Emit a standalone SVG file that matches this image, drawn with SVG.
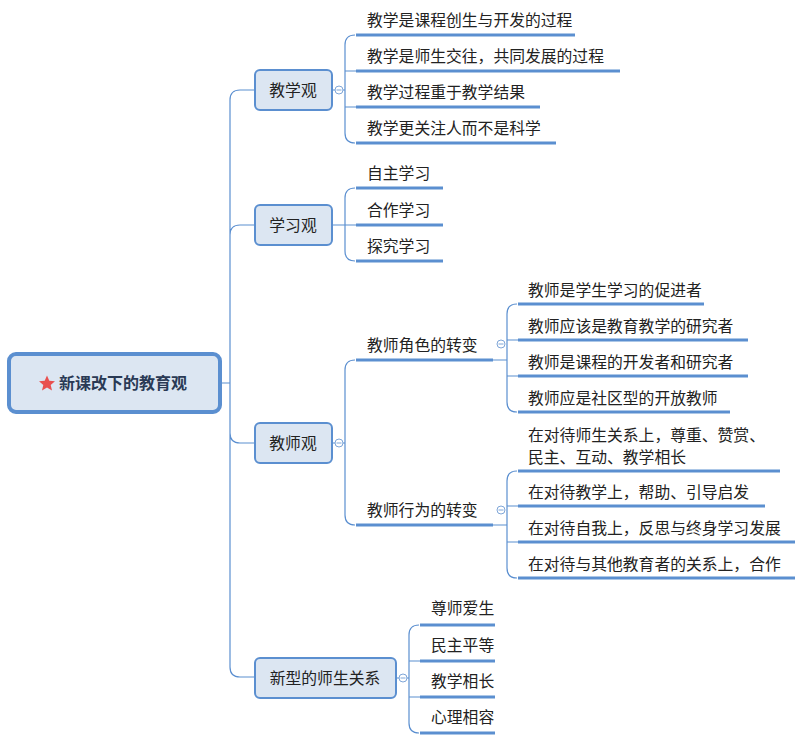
<svg xmlns="http://www.w3.org/2000/svg" width="806" height="746" viewBox="0 0 806 746">
<style>
text{font-family:"Noto Sans CJK SC","Noto Sans",sans-serif;font-size:15.8px;fill:#222}
.c{fill:none;stroke:#5b8fd0;stroke-width:1.2}
.u{stroke:#5b8fd0;stroke-width:3}
.b{fill:#dce6f2;stroke:#5b8fd0;stroke-width:2}
.t{text-anchor:middle}
.o{fill:#fff;stroke:#7fa6d8;stroke-width:1}
.m{stroke:#7fa6d8;stroke-width:1}
</style>
<rect width="806" height="746" fill="#fff"/>
<g id="connectors">
<path class="c" d="M221,383 H230 M255,90 H240 Q230,90 230,100 V667 Q230,677 240,677 H255 M230,235 Q230,225 240,225 H255 M230,433 Q230,443 240,443 H255"/>
<path class="c" d="M332,90 H345 M345,45 Q345,35 355,35 M345,133 Q345,143 355,143 M345,45 V133 M345,71 H356 M345,107 H356"/>
<path class="c" d="M332,225 H345 M345,198 Q345,188 355,188 M345,251 Q345,261 355,261 M345,198 V251 M345,225 H356"/>
<path class="c" d="M332,443 H345 M345,370 Q345,360 355,360 M345,515 Q345,525 355,525 M345,370 V515"/>
<path class="c" d="M493,360 H507 M507,314 Q507,304 517,304 M507,402 Q507,412 517,412 M507,314 V402 M507,340 H518 M507,376 H518"/>
<path class="c" d="M493,525 H507 M507,481 Q507,471 517,471 M507,568 Q507,578 517,578 M507,481 V568 M507,506 H518 M507,542 H518"/>
<path class="c" d="M396,678 H409 M409,635 Q409,625 419,625 M409,723 Q409,733 419,733 M409,635 V723 M409,661 H420 M409,697 H420"/>
</g>
<g id="root">
<rect x="9" y="354" width="211" height="58" rx="7" fill="#dce6f2" stroke="#5b8fd0" stroke-width="4"/>
<polygon points="47,375.5 49.3,380.8 55,381.2 50.7,384.9 52,390.5 47,387.5 42,390.5 43.3,384.9 39,381.2 44.7,380.8" fill="#e8504f"/>
<text x="123" y="389" class="t" style="font-size:16px;font-weight:bold;fill:#2a3a55">新课改下的教育观</text>
</g>
<g id="n1">
<rect class="b" x="255" y="70" width="77" height="40" rx="5"/><text x="293" y="96" class="t">教学观</text>
<circle class="o" cx="339" cy="90" r="4"/><line class="m" x1="336.5" y1="90" x2="341.5" y2="90"/>
<line class="u" x1="356" y1="35" x2="575" y2="35"/><text x="367" y="26">教学是课程创生与开发的过程</text>
<line class="u" x1="356" y1="71" x2="620" y2="71"/><text x="367" y="62">教学是师生交往，共同发展的过程</text>
<line class="u" x1="356" y1="107" x2="540" y2="107"/><text x="367" y="98">教学过程重于教学结果</text>
<line class="u" x1="356" y1="143" x2="556" y2="143"/><text x="367" y="134">教学更关注人而不是科学</text>
</g>
<g id="n2">
<rect class="b" x="255" y="205" width="77" height="40" rx="5"/><text x="293" y="231" class="t">学习观</text>
<line class="u" x1="356" y1="188" x2="443" y2="188"/><text x="367" y="179">自主学习</text>
<line class="u" x1="356" y1="225" x2="443" y2="225"/><text x="367" y="216">合作学习</text>
<line class="u" x1="356" y1="261" x2="443" y2="261"/><text x="367" y="252">探究学习</text>
</g>
<g id="n3">
<rect class="b" x="255" y="423" width="77" height="40" rx="5"/><text x="293" y="449" class="t">教师观</text>
<circle class="o" cx="339" cy="443" r="4"/><line class="m" x1="336.5" y1="443" x2="341.5" y2="443"/>
<line class="u" x1="356" y1="360" x2="493" y2="360"/><text x="367" y="351">教师角色的转变</text>
<circle class="o" cx="501" cy="344" r="4"/><line class="m" x1="498.5" y1="344" x2="503.5" y2="344"/>
<line class="u" x1="356" y1="525" x2="493" y2="525"/><text x="367" y="516">教师行为的转变</text>
<circle class="o" cx="501" cy="510" r="4"/><line class="m" x1="498.5" y1="510" x2="503.5" y2="510"/>
<line class="u" x1="518" y1="304" x2="704" y2="304"/><text x="528" y="296">教师是学生学习的促进者</text>
<line class="u" x1="518" y1="340" x2="748" y2="340"/><text x="528" y="332">教师应该是教育教学的研究者</text>
<line class="u" x1="518" y1="376" x2="748" y2="376"/><text x="528" y="368">教师是课程的开发者和研究者</text>
<line class="u" x1="518" y1="412" x2="730" y2="412"/><text x="528" y="404">教师应是社区型的开放教师</text>
<line class="u" x1="518" y1="471" x2="780" y2="471"/><text x="528" y="441">在对待师生关系上，尊重、赞赏、</text><text x="528" y="463">民主、互动、教学相长</text>
<line class="u" x1="518" y1="506" x2="765" y2="506"/><text x="528" y="498">在对待教学上，帮助、引导启发</text>
<line class="u" x1="518" y1="542" x2="795" y2="542"/><text x="528" y="534">在对待自我上，反思与终身学习发展</text>
<line class="u" x1="518" y1="578" x2="795" y2="578"/><text x="528" y="570">在对待与其他教育者的关系上，合作</text>
</g>
<g id="n4">
<rect class="b" x="255" y="658" width="141" height="40" rx="5"/><text x="325" y="684" class="t">新型的师生关系</text>
<circle class="o" cx="403" cy="678" r="4"/><line class="m" x1="400.5" y1="678" x2="405.5" y2="678"/>
<line class="u" x1="420" y1="625" x2="495" y2="625"/><text x="431" y="614">尊师爱生</text>
<line class="u" x1="420" y1="661" x2="495" y2="661"/><text x="431" y="651">民主平等</text>
<line class="u" x1="420" y1="697" x2="495" y2="697"/><text x="431" y="687">教学相长</text>
<line class="u" x1="420" y1="733" x2="495" y2="733"/><text x="431" y="723">心理相容</text>
</g>
</svg>
